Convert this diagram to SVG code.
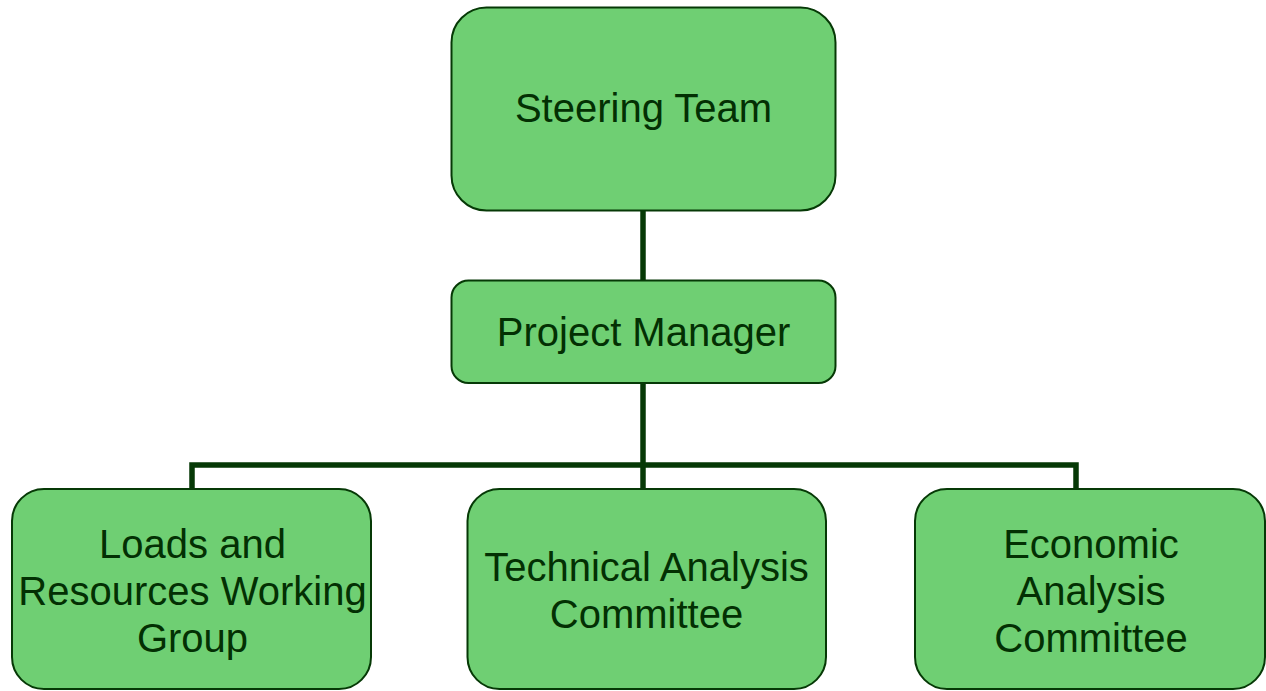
<svg xmlns="http://www.w3.org/2000/svg" width="1266" height="691" viewBox="0 0 1266 691">
<style>
.box{fill:#6fcf73;stroke:#063906;stroke-width:2}
.lbl{font-family:"Liberation Sans",Arial,sans-serif;font-size:40px;fill:#033003;text-anchor:middle}
.conn{fill:none;stroke:#063906;stroke-width:5.5;stroke-linejoin:miter;stroke-linecap:butt}
</style>
<rect width="1266" height="691" fill="#ffffff"/>
<g id="connectors">
<line class="conn" x1="643" y1="210" x2="643" y2="281"/>
<line class="conn" x1="643" y1="383" x2="643" y2="490"/>
<polyline class="conn" points="192,490 192,465 1076,465 1076,490"/>
</g>
<g id="steering-team">
<rect class="box" x="451.5" y="7.5" width="384" height="203" rx="35" ry="35"/>
<text class="lbl" x="643.5" y="122">Steering Team</text>
</g>
<g id="project-manager">
<rect class="box" x="451.5" y="280.5" width="384" height="102.5" rx="17" ry="17"/>
<text class="lbl" x="643.5" y="346">Project Manager</text>
</g>
<g id="loads-resources">
<rect class="box" x="12" y="489" width="359" height="200" rx="32" ry="32"/>
<text class="lbl" x="192.5" y="558">Loads and</text>
<text class="lbl" x="192.5" y="605">Resources Working</text>
<text class="lbl" x="192.5" y="652">Group</text>
</g>
<g id="technical-analysis">
<rect class="box" x="467.5" y="489" width="358.5" height="200" rx="32" ry="32"/>
<text class="lbl" x="646.5" y="581">Technical Analysis</text>
<text class="lbl" x="646.5" y="628">Committee</text>
</g>
<g id="economic-analysis">
<rect class="box" x="915" y="489" width="350" height="200" rx="32" ry="32"/>
<text class="lbl" x="1091" y="558">Economic</text>
<text class="lbl" x="1091" y="605">Analysis</text>
<text class="lbl" x="1091" y="652">Committee</text>
</g>
</svg>
